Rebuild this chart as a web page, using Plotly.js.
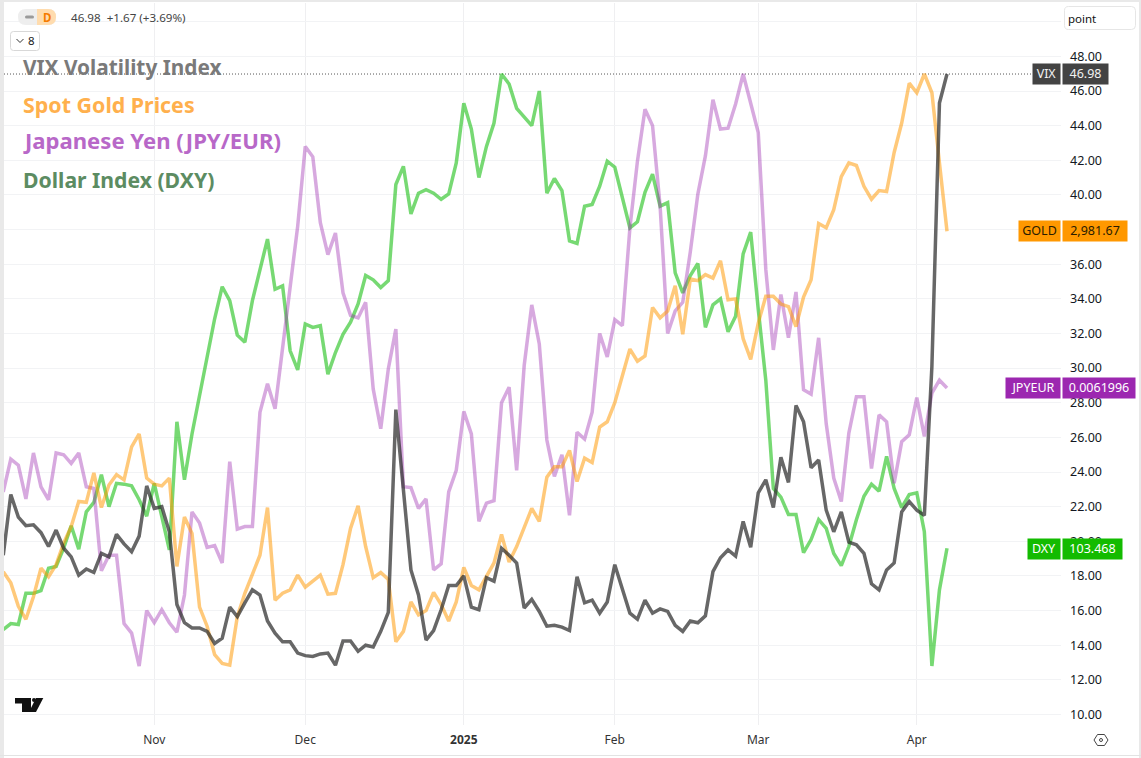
<!DOCTYPE html>
<html><head><meta charset="utf-8">
<script src="https://cdn.plot.ly/plotly-3.0.1.min.js"></script>
<style>html,body{margin:0;padding:0;background:#fff;overflow:hidden}#gd{width:1141px;height:758px}</style>
</head><body><div id="gd"></div>
<script>
const vix = [19.2,22.7,21.4,20.9,20.95,20.5,19.7,20.65,19.6,19.1,
18.05,18.4,18.2,19.3,19.1,20.4,19.85,19.4,20.3,23.2,
21.9,22.0,20.55,16.35,15.3,15.0,15.0,14.8,14.1,14.4,
16.2,15.65,16.45,17.2,16.9,15.4,14.7,14.2,14.2,13.55,
13.4,13.35,13.5,13.55,12.85,14.25,14.25,13.65,14.0,13.9,
14.8,15.9,27.6,22.9,18.35,16.9,14.3,14.85,16.05,17.45,
17.45,18.0,16.2,16.05,17.9,17.7,19.6,19.2,18.75,16.15,
16.65,15.95,15.1,15.15,15.05,14.85,17.95,16.45,16.6,15.85,
16.5,18.65,17.2,15.85,15.5,16.6,15.85,16.1,15.95,15.15,
14.8,15.4,15.3,15.7,18.25,19.05,19.5,19.15,21.15,19.65,
22.8,23.55,21.95,24.85,23.4,27.85,26.9,24.25,24.7,21.8,
20.55,21.7,19.95,19.8,19.3,17.55,17.2,18.35,18.75,21.7,
22.3,21.8,21.5,30.1,45.3,46.98];
const gold = [18.25,17.6,16.25,15.5,16.8,18.45,17.95,18.65,19.9,20.85,
22.3,22.25,23.95,21.95,23.25,23.85,23.55,25.45,26.2,23.65,
23.3,23.2,23.65,18.55,21.4,20.45,16.2,15.1,13.45,12.95,
12.85,15.65,17.0,18.05,19.2,21.95,16.6,17.0,17.2,18.05,
17.35,17.7,18.05,16.95,17.0,18.65,20.75,22.05,19.7,17.9,
18.2,17.8,14.2,14.8,16.5,15.75,16.0,17.05,16.35,15.4,
16.5,18.5,17.45,17.2,18.0,18.75,20.4,18.8,19.7,20.85,
21.9,21.15,23.7,24.3,24.3,25.25,23.45,24.8,24.55,26.6,
26.9,28.0,29.55,31.1,30.4,30.7,33.5,32.9,33.3,34.75,
31.95,35.15,35.05,35.4,35.2,36.2,33.95,34.0,31.7,30.5,
32.6,34.15,34.15,33.7,33.55,32.4,34.1,35.1,38.35,38.1,
39.15,41.05,41.85,41.7,40.5,39.75,40.25,40.2,42.45,44.15,
46.45,45.9,46.98,45.9,41.85,37.9];
const jpyeur = [22.85,24.75,24.4,22.45,25.1,23.15,22.4,25.1,25.0,24.5,
25.1,23.15,23.05,18.3,19.2,19.2,15.25,14.7,12.8,16.0,
15.3,16.05,15.3,14.75,16.9,21.7,21.05,19.65,19.75,18.75,
24.6,20.7,20.85,20.85,27.45,29.1,27.65,31.1,34.35,38.2,
42.8,42.2,38.4,36.55,37.8,34.35,33.05,32.9,33.8,28.8,
26.5,29.95,32.25,23.15,23.1,21.9,22.45,18.35,18.7,22.85,
24.1,27.5,26.2,21.15,22.2,22.35,28.0,28.9,24.1,30.15,
33.65,31.4,25.85,23.75,25.0,21.5,26.3,25.9,27.45,32.0,
30.65,32.8,32.45,38.1,41.95,44.95,44.0,39.35,32.0,33.3,
33.8,36.7,40.05,42.25,45.5,43.8,43.85,45.25,46.98,45.35,
43.6,35.7,31.05,34.25,31.75,34.4,28.75,28.5,31.75,26.8,
23.65,22.3,26.25,28.35,28.35,24.2,27.3,26.9,23.35,25.75,
26.15,28.3,26.05,28.55,29.3,28.85];
const dxy = [14.9,15.25,15.2,17.0,17.0,17.15,18.45,18.55,19.6,20.9,
19.55,21.7,22.25,23.85,22.0,23.35,23.3,23.2,22.4,21.45,
23.35,21.35,19.5,26.9,23.55,26.2,28.4,30.6,32.85,34.7,
33.9,31.9,31.5,33.9,35.6,37.45,34.55,34.75,31.0,29.9,
32.55,32.35,32.45,29.65,30.9,31.95,32.65,33.7,35.35,35.1,
34.65,35.05,40.6,41.65,38.9,40.1,40.3,40.1,39.75,40.05,
41.85,45.3,43.8,41.0,42.8,44.15,46.98,46.4,45.0,44.5,
44.0,46.0,40.1,40.95,40.25,37.35,37.2,39.35,39.45,40.5,
41.95,41.6,39.75,38.1,38.45,40.15,41.2,39.35,39.55,35.5,
34.35,35.35,36.05,32.35,33.65,34.0,32.1,33.0,36.6,37.85,
33.4,29.3,23.05,22.55,21.55,21.55,19.35,20.1,21.25,20.75,
19.3,18.6,19.7,21.25,22.6,23.3,22.9,24.9,23.05,21.95,
22.7,22.8,20.55,12.8,17.2,19.6];

const monthTickIndex = [20,40,61,81,100,121];
const monthTickLabels = ['Nov','Dec','<b>2025</b>','Feb','Mar','Apr'];
const priceTicks = [10,12,14,16,18,20,22,24,26,28,30,32,34,36,38,40,42,44,46,48,50];
const priceTickLabels = ['10.00','12.00','14.00','16.00','18.00','20.00','22.00','24.00','26.00','28.00','30.00','32.00','34.00','36.00','','40.00','42.00','44.00','46.00','48.00',''];
const legendNames = ['VIX Volatility Index','Spot Gold Prices','Japanese Yen (JPY/EUR)','Dollar Index (DXY)'];
const priceTags = [
 {sym:'VIX', val:'46.98', y:46.98, bg:'#434343', fg:'#f2f2f2', symW:27, valW:45},
 {sym:'GOLD', val:'2,981.67', y:37.9, bg:'#FF9800', fg:'#2a1c00', symW:41, valW:64},
 {sym:'JPYEUR', val:'0.0061996', y:28.85, bg:'#9C27B0', fg:'#ffffff', symW:54, valW:72},
 {sym:'DXY', val:'103.468', y:19.57, bg:'#13BB00', fg:'#ffffff', symW:32, valW:59}
];

const W=1141,H=758,L=4,R=1061,T=3,B=725;
const FONT='"Noto Sans", sans-serif';
const px=x=>(x-L)/(R-L), py=y=>(B-y)/(B-T);
const P=(x,y)=>px(x).toFixed(5)+','+py(y).toFixed(5);
function roundRect(x0,y0,x1,y1,r){
 return 'M'+P(x0+r,y0)+' L'+P(x1-r,y0)+' Q'+P(x1,y0)+' '+P(x1,y0+r)+' L'+P(x1,y1-r)+' Q'+P(x1,y1)+' '+P(x1-r,y1)+
 ' L'+P(x0+r,y1)+' Q'+P(x0,y1)+' '+P(x0,y1-r)+' L'+P(x0,y0+r)+' Q'+P(x0,y0)+' '+P(x0+r,y0)+' Z';
}
function poly(pts){return 'M'+pts.map(p=>P(p[0],p[1])).join(' L')+' Z';}
function line(pts){return 'M'+pts.map(p=>P(p[0],p[1])).join(' L');}
const pshape=(path,fill,lc,lw,layer)=>({type:'path',xref:'paper',yref:'paper',path,fillcolor:fill||'rgba(0,0,0,0)',line:{color:lc||'rgba(0,0,0,0)',width:lw||0},layer:layer||'above'});

const shapes=[
 pshape(poly([[0,0],[4,0],[4,758],[0,758]]),'#e9e9e9'),
 pshape(poly([[0,0],[1141,0],[1141,2],[0,2]]),'#e9e9e9'),
 pshape(poly([[1139,0],[1141,0],[1141,758],[1139,758]]),'#e9e9e9'),
 pshape(poly([[0,755],[1141,755],[1141,756],[0,756]]),'#e3e3e3'),
 {type:'line',xref:'paper',yref:'y',x0:0,x1:px(1034),y0:46.98,y1:46.98,line:{color:'#555',width:1,dash:'1px,2px'},layer:'below'},
 pshape(roundRect(18,9,56,25,8),'#eeeeee'),
 pshape('M'+P(37,9)+' L'+P(48,9)+' Q'+P(56,9)+' '+P(56,17)+' Q'+P(56,25)+' '+P(48,25)+' L'+P(37,25)+' Z','#ffdcae'),
 pshape(roundRect(25,15.5,34,18.5,1.5),'#9a9a9a'),
 pshape(roundRect(10.5,31.5,39.5,50.5,3),'#ffffff','#d8d8d8',1),
 pshape(line([[16.5,39],[20,42.5],[23.5,39]]),null,'#333',1),
 pshape(roundRect(1064.5,6.5,1135.5,29.5,4),'#ffffff','#e6e6e6',1),
 pshape(poly([[15,698],[31,698],[31,712],[22,712],[22,703.5],[15,703.5]]),'#111'),
 pshape(poly([[36,698],[43.3,698],[36,712],[29,712]]),'#111'),
 {type:'circle',xref:'paper',yref:'paper',x0:px(32),x1:px(36),y0:py(702),y1:py(698),fillcolor:'#111',line:{width:0},layer:'above'},
 pshape(poly([[1094,740],[1097.5,734.5],[1104.5,734.5],[1108,740],[1104.5,745.5],[1097.5,745.5]]),null,'#444',1),
 {type:'circle',xref:'paper',yref:'paper',x0:px(1099.5),x1:px(1102.5),y0:py(741.5),y1:py(738.5),line:{color:'#444',width:1},layer:'above'}
];

const txt=(x,y,text,size,color,extra)=>Object.assign({xref:'paper',yref:'paper',x:px(x),y:py(y),text,showarrow:false,xanchor:'left',yanchor:'middle',font:{family:FONT,size,color},borderpad:0},extra||{});
const annotations=[
 txt(22,67,'<b>'+legendNames[0]+'</b>',20.8,'#7a7a7a'),
 txt(22,104,'<b>'+legendNames[1]+'</b>',21.4,'#FFB04D'),
 txt(22,140,'<b>'+legendNames[2]+'</b>',22.1,'#B868C8'),
 txt(22,179,'<b>'+legendNames[3]+'</b>',21.2,'#5C8C62'),
 txt(42,17,'<b>D</b>',11.5,'#F57C00'),
 txt(70,17,'46.98  +1.67 (+3.69%)',11.6,'#444'),
 txt(27,40.5,'8',11.5,'#222'),
 txt(1067,18,'point',11.5,'#111')
];
priceTags.forEach(t=>{
 const hgt=19.5;
 annotations.push({xref:'paper',yref:'y',x:px(1061),y:t.y,xanchor:'right',yanchor:'middle',width:t.symW,height:hgt,align:'center',valign:'middle',showarrow:false,bgcolor:t.bg,borderpad:0,text:t.sym,font:{family:FONT,size:12.5,color:t.fg}});
 annotations.push({xref:'paper',yref:'y',x:px(1062),y:t.y,xanchor:'left',yanchor:'middle',width:t.valW,height:hgt,align:'center',valign:'middle',showarrow:false,bgcolor:t.bg,borderpad:0,text:t.val,font:{family:FONT,size:12.5,color:t.fg}});
});

const tr=(name,y,color)=>({type:'scatter',mode:'lines',name,y,line:{color,width:3.5,shape:'linear'},hoverinfo:'skip'});
const data=[
 tr('DXY',dxy,'rgba(8,185,0,0.55)'),
 tr('JPYEUR',jpyeur,'rgba(156,39,176,0.40)'),
 tr('GOLD',gold,'rgba(255,152,0,0.52)'),
 tr('VIX',vix,'rgba(45,45,45,0.72)')
];
const scaleY=17.32, y46px=91;
const layout={
 width:W,height:H,showlegend:false,paper_bgcolor:'#fff',plot_bgcolor:'#fff',
 margin:{l:L,r:W-R,t:T,b:H-B,pad:0},
 font:{family:FONT,color:'#131722'},
 xaxis:{range:[0.1,140.1],tickmode:'array',tickvals:monthTickIndex,ticktext:monthTickLabels,showgrid:true,gridcolor:'#efeff1',gridwidth:1,zeroline:false,showline:false,ticks:'',ticklabelstandoff:6,tickfont:{family:FONT,size:12,color:'#333'}},
 yaxis:{side:'right',range:[46-(B-y46px)/scaleY,46+(y46px-T)/scaleY],tickmode:'array',tickvals:priceTicks,ticktext:priceTickLabels,showgrid:true,gridcolor:'#f2f3f5',gridwidth:1,zeroline:false,showline:false,ticks:'',ticklabelstandoff:8,tickfont:{family:FONT,size:12.5,color:'#131722'}},
 shapes,annotations
};
Plotly.newPlot('gd',data,layout,{displayModeBar:false,staticPlot:true});
</script></body></html>
